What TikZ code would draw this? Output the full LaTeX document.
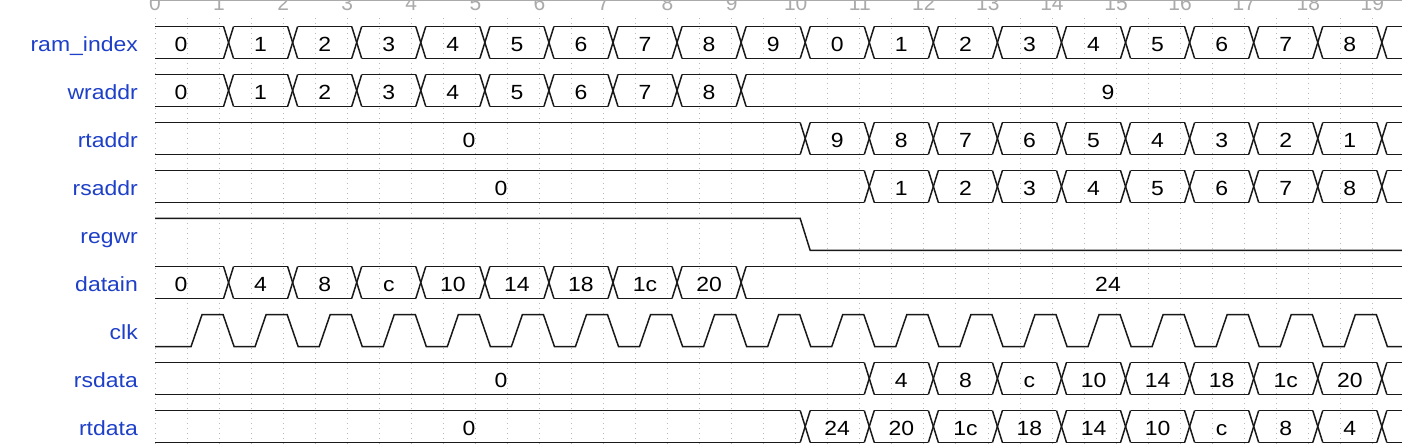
\documentclass[tikz,border=0pt]{standalone}
\usepackage{fontspec}
\setmainfont{Liberation Sans}
\newfontfamily\wavefont[FakeStretch=1.12]{Liberation Sans}
\definecolor{lblblue}{RGB}{30,64,200}
\definecolor{gridgray}{RGB}{185,185,185}
\definecolor{tickgray}{RGB}{170,170,170}
\def\P{64.07}
\newcommand\busrow[3]{%
  \pgfmathsetmacro\byt{#1-16}\pgfmathsetmacro\byb{#1+16}%
  \pgfmathtruncatemacro\bkl{#3-1}%
  \draw[wave] (155,\byt) -- ({155+\P*#2+4.5},\byt);
  \draw[wave] (155,\byb) -- ({155+\P*#2+4.5},\byb);
  \foreach \k in {#2,...,#3}{
    \draw[wave] ({155+\P*\k+4.5},\byt) -- ({155+\P*\k+14.5},\byb);
    \draw[wave] ({155+\P*\k+4.5},\byb) -- ({155+\P*\k+14.5},\byt);
  }
  \foreach \k in {#2,...,\bkl}{
    \draw[wave] ({155+\P*\k+14.5},\byt) -- ({155+\P*(\k+1)+4.5},\byt);
    \draw[wave] ({155+\P*\k+14.5},\byb) -- ({155+\P*(\k+1)+4.5},\byb);
  }
  \draw[wave] ({155+\P*#3+14.5},\byt) -- (1420,\byt);
  \draw[wave] ({155+\P*#3+14.5},\byb) -- (1420,\byb);
}
\newcommand\buslabels[2]{% #1 baseline y, #2 list k/v
  \foreach \k/\v in {#2}{
    \node[val] at ({155+\P*(\k+0.5)+9.5},#1) {\v};
  }
}
\begin{document}
\begin{tikzpicture}[x=1pt,y=-1pt,
  wave/.style={line width=1.5pt, black!90, line join=miter},
  gridline/.style={gridgray, line width=0.8pt, dash pattern=on 1.2pt off 3.8pt},
  sig/.style={font=\wavefont\fontsize{20.5}{24}\selectfont, text=lblblue, anchor=base east, inner sep=0pt},
  val/.style={font=\wavefont\fontsize{20.5}{24}\selectfont, text=black, anchor=base, inner sep=0pt},
  tick/.style={font=\fontsize{21}{24}\selectfont, text=tickgray, anchor=base, inner sep=0pt}]
\useasboundingbox (0,0) rectangle (1402,446);
\clip (0,0) rectangle (1402,446);
\fill[white] (0,0) rectangle (1402,446);
% axis
\draw[tickgray, line width=1pt] (150,1) -- (1402,1);
\foreach \k in {0,...,19}{
  \node[tick] (t\k) at ({155+\P*\k},11) {\k};
}
% grid
\foreach \j in {0,...,39}{
  \draw[gridline] ({155+\P*\j/2},18) -- ({155+\P*\j/2},446);
}
% signal names
\node[sig] (n-ram) at (138,51.5) {ram\_index};
\node[sig] (n-wr) at (138,99.5) {wraddr};
\node[sig] (n-rt) at (138,147.5) {rtaddr};
\node[sig] (n-rs) at (138,195.5) {rsaddr};
\node[sig] (n-regwr) at (138,243.5) {regwr};
\node[sig] (n-datain) at (138,291.5) {datain};
\node[sig] (n-clk) at (138,339.5) {clk};
\node[sig] (n-rsdata) at (138,387.5) {rsdata};
\node[sig] (n-rtdata) at (138,435.5) {rtdata};
% ram_index
\busrow{42.5}{1}{19}
\node[val] at (181,51.5) {0};
\buslabels{51.5}{1/1,2/2,3/3,4/4,5/5,6/6,7/7,8/8,9/9,10/0,11/1,12/2,13/3,14/4,15/5,16/6,17/7,18/8}
% wraddr
\busrow{90.5}{1}{9}
\node[val] at (181,99.5) {0};
\buslabels{99.5}{1/1,2/2,3/3,4/4,5/5,6/6,7/7,8/8}
\node[val] at (1108,99.5) {9};
% rtaddr
\busrow{138.5}{10}{19}
\node[val] at (469,147.5) {0};
\buslabels{147.5}{10/9,11/8,12/7,13/6,14/5,15/4,16/3,17/2,18/1}
% rsaddr
\busrow{186.5}{11}{19}
\node[val] at (501,195.5) {0};
\buslabels{195.5}{11/1,12/2,13/3,14/4,15/5,16/6,17/7,18/8}
% regwr
\draw[wave] (155,218.5) -- ({155+\P*10+4.5},218.5) -- ({155+\P*10+14.5},250.5) -- (1420,250.5);
% datain
\busrow{282.5}{1}{9}
\node[val] at (181,291.5) {0};
\buslabels{291.5}{1/4,2/8,3/c,4/10,5/14,6/18,7/1c,8/20}
\node[val] at (1108,291.5) {24};
% clk
\draw[wave] (155,346.5) \foreach \k in {1,...,20}{
  -- ({155+\P*\k-28},346.5) -- ({155+\P*\k-17},314.5)
  -- ({155+\P*\k+4},314.5) -- ({155+\P*\k+15},346.5) };
% rsdata
\busrow{378.5}{11}{19}
\node[val] at (501,387.5) {0};
\buslabels{387.5}{11/4,12/8,13/c,14/10,15/14,16/18,17/1c,18/20}
% rtdata
\busrow{426.5}{10}{19}
\node[val] at (469,435.5) {0};
\buslabels{435.5}{10/24,11/20,12/1c,13/18,14/14,15/10,16/c,17/8,18/4}
\end{tikzpicture}
\end{document}
